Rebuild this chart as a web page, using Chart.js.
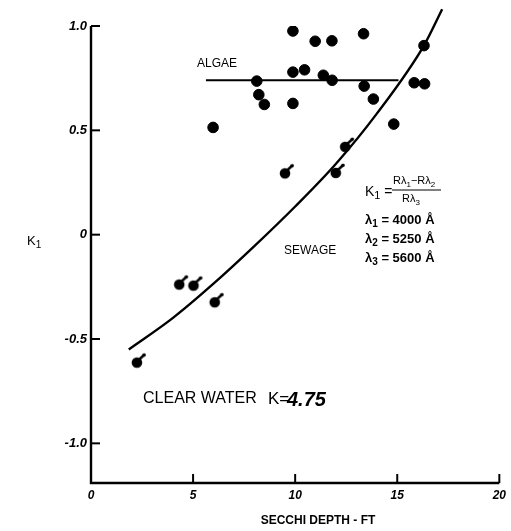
<!DOCTYPE html>
<html>
<head>
<meta charset="utf-8">
<script src="https://cdn.jsdelivr.net/npm/chart.js@4/dist/chart.umd.min.js"></script>
<style>
  html, body { margin: 0; padding: 0; background: #fff; }
  #wrap { width: 511px; height: 531px; position: relative; }
</style>
</head>
<body>
<div id="wrap"><canvas id="c"></canvas></div>
<script>
// axis ticks
const xTicks = [0, 5, 10, 15, 20];
const yTicks = [-1.0, -0.5, 0, 0.5, 1.0];
const yTickLabels = ['-1.0', '-0.5', '0', '0.5', '1.0'];

// plain dots (algae group)
const algaeX = [9.89, 10.98, 11.80, 13.35, 8.12, 9.89, 10.46, 11.38, 11.81, 8.22, 8.49, 9.89, 5.98, 13.38, 13.83, 15.83, 16.34, 16.31, 14.83];
const algaeY = [0.976, 0.927, 0.929, 0.963, 0.736, 0.779, 0.790, 0.764, 0.740, 0.671, 0.624, 0.629, 0.514, 0.712, 0.650, 0.728, 0.723, 0.906, 0.530];

// flagged dots (sewage group)
const sewageX = [2.25, 4.32, 5.02, 6.06, 9.50, 11.99, 12.45];
const sewageY = [-0.613, -0.239, -0.244, -0.324, 0.294, 0.296, 0.421];

// algae level line
const algaeLineX = [5.63, 15.06];
const algaeLineY = [0.74, 0.74];

// sewage curve
const curveX = [1.85, 4.0, 6.0, 8.0, 10.0, 12.0, 14.0, 16.3, 17.2];
const curveY = [-0.55, -0.40, -0.235, -0.055, 0.135, 0.34, 0.58, 0.905, 1.08];

const toPts = (xs, ys) => xs.map((x, i) => ({ x: x, y: ys[i] }));

// dot with a little tail, used for the sewage points
function flagDot() {
    const c = document.createElement('canvas');
    c.width = 26; c.height = 26;
    const g = c.getContext('2d');
    g.fillStyle = '#000';
    g.strokeStyle = '#000';
    g.beginPath();
    g.arc(13, 13, 5.3, 0, Math.PI * 2);
    g.fill();
    g.lineWidth = 2.4;
    g.lineCap = 'round';
    g.beginPath();
    g.moveTo(14, 11);
    g.lineTo(20.5, 5);
    g.stroke();
    g.beginPath();
    g.arc(20, 5.5, 1.8, 0, Math.PI * 2);
    g.fill();
    return c;
}

const FONT = '"Liberation Sans", Arial, sans-serif';

function drawSub(ctx, x, y, parts, size, weight) {
    let cx = x;
    const w = weight ? weight + ' ' : '';
    parts.forEach(p => {
        const sub = p[1];
        ctx.font = w + (sub ? Math.round(size * 0.75) : size) + 'px ' + FONT;
        ctx.fillText(p[0], cx, sub ? y + size * 0.3 : y);
        cx += ctx.measureText(p[0]).width;
    });
    return cx;
}

const decor = {
    id: 'decor',
    afterDraw(chart) {
        const ctx = chart.ctx;
        const a = chart.chartArea;
        const xs = chart.scales.x, ys = chart.scales.y;
        ctx.save();
        ctx.strokeStyle = '#000';
        ctx.fillStyle = '#000';

        // axes
        ctx.lineWidth = 2.4;
        ctx.beginPath();
        ctx.moveTo(a.left, a.top);
        ctx.lineTo(a.left, a.bottom);
        ctx.lineTo(a.right, a.bottom);
        ctx.stroke();

        // inward ticks
        ctx.lineWidth = 2;
        xTicks.slice(1).forEach(v => {
            const px = xs.getPixelForValue(v);
            ctx.beginPath();
            ctx.moveTo(px, a.bottom);
            ctx.lineTo(px, a.bottom - 9);
            ctx.stroke();
        });
        yTicks.forEach(v => {
            const py = ys.getPixelForValue(v);
            ctx.beginPath();
            ctx.moveTo(a.left, py);
            ctx.lineTo(a.left + 9, py);
            ctx.stroke();
        });

        ctx.textBaseline = 'middle';
        ctx.textAlign = 'left';

        // y axis title
        drawSub(ctx, 27, 241, [['K', false], ['1', true]], 13);

        // x axis title
        ctx.font = 'bold 12px ' + FONT;
        ctx.textAlign = 'center';
        ctx.fillText('SECCHI DEPTH - FT', 318, 521);
        ctx.textAlign = 'left';

        // curve labels
        ctx.font = '12px ' + FONT;
        ctx.fillText('ALGAE', 197, 64);
        ctx.fillText('SEWAGE', 284, 251);

        // formula block
        drawSub(ctx, 365, 192, [['K', false], ['1', true], [' =', false]], 14);
        drawSub(ctx, 393, 181, [['Rλ', false], ['1', true], ['−Rλ', false], ['2', true]], 11);
        ctx.lineWidth = 1;
        ctx.beginPath();
        ctx.moveTo(392, 190);
        ctx.lineTo(441, 190);
        ctx.stroke();
        drawSub(ctx, 402, 199, [['Rλ', false], ['3', true]], 11);
        drawSub(ctx, 365, 220, [['λ', false], ['1', true], [' = 4000 Å', false]], 13, 'bold');
        drawSub(ctx, 365, 239, [['λ', false], ['2', true], [' = 5250 Å', false]], 13, 'bold');
        drawSub(ctx, 365, 258, [['λ', false], ['3', true], [' = 5600 Å', false]], 13, 'bold');

        // clear water note
        ctx.font = '16px ' + FONT;
        ctx.fillText('CLEAR WATER', 143, 399);
        ctx.font = '17px ' + FONT;
        ctx.fillText('K=', 268, 399);
        ctx.font = 'bold italic 20px ' + FONT;
        ctx.fillText('4.75', 287, 400);

        ctx.restore();
    }
};

new Chart(document.getElementById('c'), {
    type: 'scatter',
    data: {
        datasets: [
            {
                label: 'Algae',
                data: toPts(algaeX, algaeY),
                backgroundColor: '#000',
                borderColor: '#000',
                pointRadius: 5.3,
                pointHoverRadius: 5.3
            },
            {
                label: 'Sewage',
                data: toPts(sewageX, sewageY),
                pointStyle: flagDot(),
                pointRadius: 6
            },
            {
                label: 'Algae line',
                data: toPts(algaeLineX, algaeLineY),
                showLine: true,
                borderColor: '#000',
                borderWidth: 2,
                pointRadius: 0
            },
            {
                label: 'Sewage curve',
                data: toPts(curveX, curveY),
                showLine: true,
                borderColor: '#000',
                borderWidth: 2.4,
                pointRadius: 0,
                cubicInterpolationMode: 'monotone',
                clip: false
            }
        ]
    },
    options: {
        responsive: true,
        maintainAspectRatio: false,
        animation: false,
        layout: { padding: { top: 26, right: 3, left: 0, bottom: 0 } },
        plugins: {
            legend: { display: false },
            tooltip: { enabled: false }
        },
        scales: {
            x: {
                type: 'linear',
                min: 0,
                max: 20,
                grid: { display: false, drawTicks: false, tickLength: 0 },
                border: { display: false },
                afterBuildTicks: s => { s.ticks = xTicks.map(v => ({ value: v })); },
                afterFit: s => { s.height = 48; },
                ticks: {
                    padding: 5,
                    color: '#000',
                    maxRotation: 0,
                    font: { family: FONT, size: 12, weight: 'bold', style: 'italic' }
                }
            },
            y: {
                type: 'linear',
                min: -1.19,
                max: 1.0,
                grid: { display: false, drawTicks: false, tickLength: 0 },
                border: { display: false },
                afterBuildTicks: s => { s.ticks = yTicks.map(v => ({ value: v })); },
                afterFit: s => { s.width = 91; },
                ticks: {
                    padding: 4,
                    color: '#000',
                    font: { family: FONT, size: 13, weight: 'bold', style: 'italic' },
                    callback: (v) => yTickLabels[yTicks.indexOf(v)]
                }
            }
        }
    },
    plugins: [decor]
});
</script>
</body>
</html>
